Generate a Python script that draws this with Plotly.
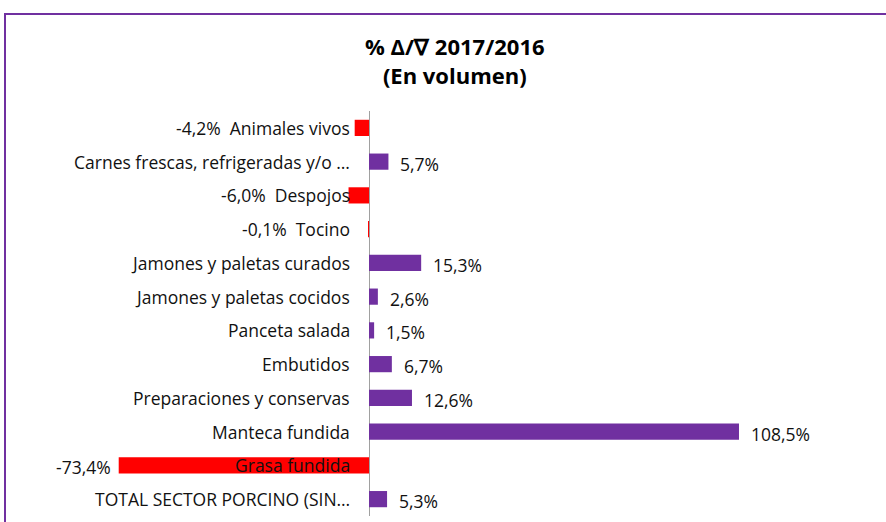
import plotly.graph_objects as go

categories = [
    "Animales vivos",
    "Carnes frescas, refrigeradas y/o …",
    "Despojos",
    "Tocino",
    "Jamones y paletas curados",
    "Jamones y paletas cocidos",
    "Panceta salada",
    "Embutidos",
    "Preparaciones y conservas",
    "Manteca fundida",
    "Grasa fundida",
    "TOTAL SECTOR PORCINO (SIN…",
]
values = [-4.2, 5.7, -6.0, -0.1, 15.3, 2.6, 1.5, 6.7, 12.6, 108.5, -73.4, 5.3]

POS = "#7030A0"
NEG = "#FF0000"
FONT = "Open Sans"
TXT = "#111111"
FS = 17.5

def fmt(v):
    return f"{v:.1f}%".replace(".", ",")

W, H = 886, 522
px_per_unit = 3.41
zero_px = 369
xmin = -zero_px / px_per_unit
xmax = (W - zero_px) / px_per_unit

colors = [POS if v >= 0 else NEG for v in values]

fig = go.Figure(go.Bar(
    y=categories, x=values, orientation="h",
    marker=dict(color=colors, line=dict(width=0)),
    width=0.48,
    hoverinfo="skip",
))

annotations = []
label_gap = 17
for c, v in zip(categories, values):
    bar_px = abs(v) * px_per_unit
    est_cat_w = len(c) * 9.5 + label_gap
    if v < 0 and bar_px < est_cat_w:
        text = f"{fmt(v)}  {c}"
    else:
        text = c
    annotations.append(dict(
        x=0, y=c, xref="x", yref="y", text=text, showarrow=False,
        xanchor="right", xshift=-label_gap,
        font=dict(family=FONT, size=FS, color=TXT),
    ))
    if v >= 0:
        annotations.append(dict(
            x=v, y=c, xref="x", yref="y", text=fmt(v), showarrow=False,
            xanchor="left", xshift=10, yshift=-2,
            font=dict(family=FONT, size=FS, color=TXT),
        ))
    elif bar_px >= est_cat_w:
        annotations.append(dict(
            x=v, y=c, xref="x", yref="y", text=fmt(v), showarrow=False,
            xanchor="right", xshift=-6, yshift=-2,
            font=dict(family=FONT, size=FS, color=TXT),
        ))

top_m, bot_m = 111, 6
ph = H - top_m - bot_m

annotations.append(dict(
    x=455 / W, y=(H - bot_m - 61) / ph, xref="paper", yref="paper",
    yanchor="middle", showarrow=False,
    text="<b>% Δ/∇ 2017/2016</b><br><b>(En volumen)</b>",
    font=dict(family=FONT, size=22, color="#000000"),
))

fig.update_layout(
    width=W, height=H,
    margin=dict(l=0, r=0, t=top_m, b=bot_m),
    paper_bgcolor="white", plot_bgcolor="white",
    showlegend=False,
    xaxis=dict(range=[xmin, xmax], showgrid=False, zeroline=True,
               zerolinecolor="#A0A0A0", zerolinewidth=1,
               showticklabels=False, ticks=""),
    yaxis=dict(autorange="reversed", showticklabels=False, showgrid=False,
               ticks="", zeroline=False),
    annotations=annotations,
    shapes=[dict(
        type="rect", xref="paper", yref="paper",
        x0=5 / W, x1=1.05, y0=-0.1, y1=(H - bot_m - 14) / ph,
        line=dict(color="#7030A0", width=2), layer="below",
    )],
)

fig.write_html(
    "out.html",
    config={"displayModeBar": False},
    post_script="document.body.style.margin='0';document.body.style.overflow='hidden';",
)
